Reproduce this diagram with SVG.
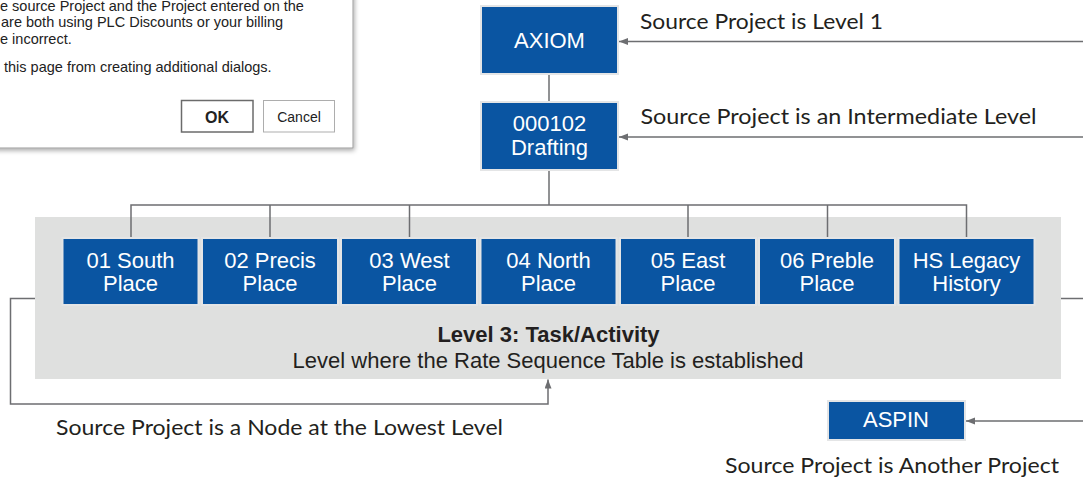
<svg xmlns="http://www.w3.org/2000/svg" width="1083" height="483" viewBox="0 0 1083 483">
<style>
.node{fill:#0a55a2;stroke:#e4e5e6;stroke-width:2}
.nt{font-family:"Liberation Sans",Arial,sans-serif;font-size:22px;fill:#ffffff;text-anchor:middle}
.lbl{font-family:Lato,"Open Sans",sans-serif;font-size:22px;fill:#231f20}
.pt{font-family:"Liberation Sans",Arial,sans-serif;font-size:22px;fill:#231f20;text-anchor:middle}
.dt{font-family:"Liberation Sans",Arial,sans-serif;font-size:14.5px;fill:#222222}
.conn{fill:none;stroke:#6d6e71;stroke-width:1.5}
</style>
<defs>
<marker id="arr" markerUnits="userSpaceOnUse" markerWidth="10" markerHeight="8" refX="9" refY="3.5" orient="auto">
<path d="M0,0 L9,3.5 L0,7 z" fill="#6d6e71"/>
</marker>
<filter id="sh" x="-10%" y="-10%" width="130%" height="140%">
<feGaussianBlur in="SourceAlpha" stdDeviation="2.5"/>
<feOffset dx="1" dy="2" result="b"/>
<feComponentTransfer><feFuncA type="linear" slope="0.35"/></feComponentTransfer>
<feMerge><feMergeNode/><feMergeNode in="SourceGraphic"/></feMerge>
</filter>
</defs>
<rect width="1083" height="483" fill="#ffffff"/>

<g id="dialog">
<rect x="-10" y="-10" width="363" height="158" fill="#ffffff" stroke="#9b9b9b" stroke-width="1" filter="url(#sh)"/>
<text class="dt" x="0" y="11">e source Project and the Project entered on the</text>
<text class="dt" x="1" y="27">are both using PLC Discounts or your billing</text>
<text class="dt" x="0" y="44">e incorrect.</text>
<text class="dt" x="4" y="72">this page from creating additional dialogs.</text>
<rect x="181.5" y="100.5" width="71.5" height="31.5" fill="#ffffff" stroke="#6b6b6b" stroke-width="1.5"/>
<text x="217" y="123" font-family="'Liberation Sans',Arial,sans-serif" font-size="16px" font-weight="bold" fill="#222222" text-anchor="middle">OK</text>
<rect x="263.5" y="100.5" width="71" height="31.5" fill="#ffffff" stroke="#adadad" stroke-width="1"/>
<text x="299" y="122" font-family="'Liberation Sans',Arial,sans-serif" font-size="14px" fill="#222222" text-anchor="middle">Cancel</text>
</g>

<g id="level3-panel">
<rect x="35" y="217" width="1026" height="162" fill="#dfe0df"/>
<text class="pt" x="548.5" y="342" font-weight="bold">Level 3: Task/Activity</text>
<text class="pt" x="548" y="368">Level where the Rate Sequence Table is established</text>
</g>

<g id="connectors">
<path class="conn" d="M549,74 V102"/>
<path class="conn" d="M549,170 V205"/>
<path class="conn" d="M131,238 V205 H966.5 V238"/>
<path class="conn" d="M270,205 V238"/>
<path class="conn" d="M409.5,205 V238"/>
<path class="conn" d="M688,205 V238"/>
<path class="conn" d="M827.5,205 V238"/>
<path class="conn" d="M1083,41.5 H619" marker-end="url(#arr)"/>
<path class="conn" d="M1083,137 H619" marker-end="url(#arr)"/>
<path class="conn" d="M1083,421 H966" marker-end="url(#arr)"/>
<path class="conn" d="M35,298.5 H10.5 V404 H548 V379.5" marker-end="url(#arr)"/>
<path class="conn" d="M1061,298.5 H1083"/>
</g>

<g id="axiom">
<rect class="node" x="481" y="6" width="137" height="68"/>
<text class="nt" x="549.5" y="47.5">AXIOM</text>
</g>
<g id="drafting">
<rect class="node" x="481" y="102" width="137" height="68"/>
<text class="nt" x="549.5" y="131">000102</text>
<text class="nt" x="549.5" y="154.5">Drafting</text>
</g>

<g id="south">
<rect class="node" x="62.5" y="238" width="136" height="67"/>
<text class="nt" x="130.5" y="267.5">01 South</text>
<text class="nt" x="130.5" y="291">Place</text>
</g>
<g id="precis">
<rect class="node" x="202" y="238" width="136" height="67"/>
<text class="nt" x="270" y="267.5">02 Precis</text>
<text class="nt" x="270" y="291">Place</text>
</g>
<g id="west">
<rect class="node" x="341" y="238" width="136" height="67"/>
<text class="nt" x="409.5" y="267.5">03 West</text>
<text class="nt" x="409.5" y="291">Place</text>
</g>
<g id="north">
<rect class="node" x="480.5" y="238" width="136" height="67"/>
<text class="nt" x="548.5" y="267.5">04 North</text>
<text class="nt" x="548.5" y="291">Place</text>
</g>
<g id="east">
<rect class="node" x="620" y="238" width="136" height="67"/>
<text class="nt" x="688" y="267.5">05 East</text>
<text class="nt" x="688" y="291">Place</text>
</g>
<g id="preble">
<rect class="node" x="759" y="238" width="136" height="67"/>
<text class="nt" x="827" y="267.5">06 Preble</text>
<text class="nt" x="827" y="291">Place</text>
</g>
<g id="legacy">
<rect class="node" x="898.5" y="238" width="136" height="67"/>
<text class="nt" x="966.5" y="267.5">HS Legacy</text>
<text class="nt" x="966.5" y="291">History</text>
</g>

<g id="aspin">
<rect class="node" x="828" y="401" width="137" height="39"/>
<text class="nt" x="896" y="427">ASPIN</text>
</g>

<g id="labels">
<text class="lbl" x="640" y="29" textLength="243" lengthAdjust="spacingAndGlyphs">Source Project is Level 1</text>
<text class="lbl" x="640.5" y="124" textLength="396" lengthAdjust="spacingAndGlyphs">Source Project is an Intermediate Level</text>
<text class="lbl" x="56" y="435" textLength="447" lengthAdjust="spacingAndGlyphs">Source Project is a Node at the Lowest Level</text>
<text class="lbl" x="725" y="473" textLength="334" lengthAdjust="spacingAndGlyphs">Source Project is Another Project</text>
</g>
</svg>
